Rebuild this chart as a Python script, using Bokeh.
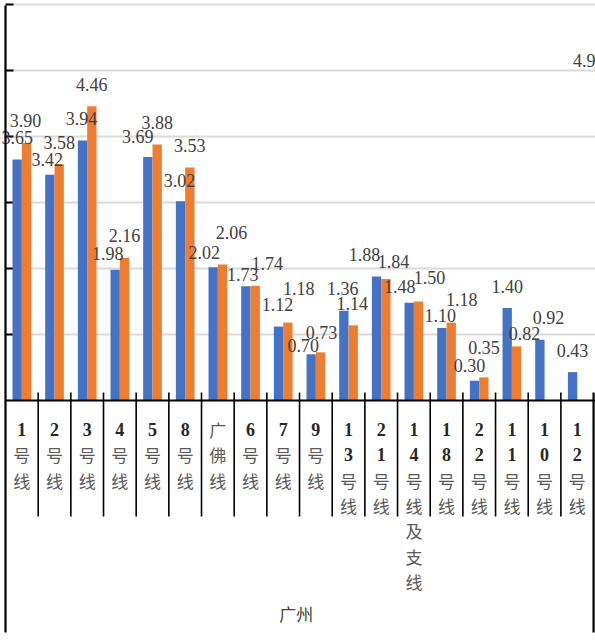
from bokeh.plotting import figure
from bokeh.models import Range1d
from bokeh.core.properties import value
from bokeh.embed import file_html
from bokeh.resources import INLINE

# ---- data -------------------------------------------------------------
lines = ["1号线", "2号线", "3号线", "4号线", "5号线", "8号线", "广佛线", "6号线",
         "7号线", "9号线", "13号线", "21号线", "14号线及支线", "18号线", "22号线",
         "11号线", "10号线", "12号线"]
series_blue = [3.65, 3.42, 3.94, 1.98, 3.69, 3.02, 2.02, 1.73, 1.12, 0.70,
               1.36, 1.88, 1.48, 1.10, 0.30, 1.40, 0.92, 0.43]
series_orange = [3.90, 3.58, 4.46, 2.16, 3.88, 3.53, 2.06, 1.74, 1.18, 0.73,
                 1.14, 1.84, 1.50, 1.18, 0.35, 0.82, None, None]
group_name = "广州"
next_group_blue = 4.9           # first bar of the following group (past the right edge)
y_ticks = [1, 2, 3, 4, 5, 6]

# ---- label nudges (pixels: sideways shift, lift above the bar top) -----
blue_nudge = [(0, 22), (-2.5, 15), (-1, 22), (-7.5, 16), (-10, 20), (-1, 21),
              (-9, 15), (-3, 12), (-1, 22), (-8, 9), (-1, 22), (-12, 22),
              (-9.5, 16), (-1.5, 12), (-5, 15), (0, 22), (8.5, 22), (0, 22)]
orange_nudge = [(-1, 22.5), (0, 22), (0, 22), (0, 22), (0, 22), (0, 22),
                (9, 32), (12, 22), (11, 34), (1, 20), (-1, 22), (7.5, 18),
                (11, 24), (10.5, 23), (0, 30), (8, 13), (0, 0), (0, 0)]

# ---- geometry ---------------------------------------------------------
W, H = 595, 643
CAT_PX = 32.67      # pixels per category
UNIT_PX = 66.0      # pixels per y unit
LEFT_PX = 5         # left edge of the first category
AXIS_PX = 400       # pixel row of y = 0
BAR_W = 0.286
n = len(lines)

x0 = -LEFT_PX / CAT_PX
x1 = (W - LEFT_PX) / CAT_PX
y1 = AXIS_PX / UNIT_PX
y0 = -(H - AXIS_PX) / UNIT_PX

def px_down(px):
    """y value that lies px pixels below the category axis"""
    return -px / UNIT_PX

BLUE = "#4472C4"
ORANGE = "#ED7D31"
GRID = "#D9D9D9"
INK = "#000000"
LABEL = "#404040"
SERIF = value("Liberation Serif")
CJK = value("Noto Sans CJK SC")

p = figure(width=W, height=H, x_range=Range1d(x0, x1), y_range=Range1d(y0, y1),
           output_backend="svg", toolbar_location=None, min_border=0,
           x_axis_location=None, y_axis_location=None)
p.grid.visible = False
p.outline_line_color = None
p.background_fill_color = "white"
p.border_fill_color = "white"

# gridlines and inward tick marks on the value axis
p.segment(x0=[0] * len(y_ticks), y0=y_ticks, x1=[x1] * len(y_ticks), y1=y_ticks,
          line_color=GRID, line_width=2)
p.segment(x0=[0] * len(y_ticks), y0=y_ticks, x1=[8 / CAT_PX] * len(y_ticks),
          y1=y_ticks, line_color=INK, line_width=2)

# bars
idx = list(range(n))
xb = [i + 0.5 - BAR_W / 2 for i in idx]
xo = [i + 0.5 + BAR_W / 2 for i in idx]
p.vbar(x=xb, top=series_blue, width=BAR_W, bottom=0,
       fill_color=BLUE, line_color=None)
o_idx = [i for i in idx if series_orange[i] is not None]
p.vbar(x=[xo[i] for i in o_idx], top=[series_orange[i] for i in o_idx],
       width=BAR_W, bottom=0, fill_color=ORANGE, line_color=None)
p.vbar(x=[n + 0.5 - BAR_W / 2], top=[next_group_blue], width=BAR_W, bottom=0,
       fill_color=BLUE, line_color=None)

# value labels
lab_x, lab_y, lab_t = [], [], []
for i in idx:
    dx, lift = blue_nudge[i]
    lab_x.append(xb[i] + dx / CAT_PX)
    lab_y.append(series_blue[i] + lift / UNIT_PX)
    lab_t.append(f"{series_blue[i]:.2f}")
for i in o_idx:
    dx, lift = orange_nudge[i]
    lab_x.append(xo[i] + dx / CAT_PX)
    lab_y.append(series_orange[i] + lift / UNIT_PX)
    lab_t.append(f"{series_orange[i]:.2f}")
# the label of the next group's first bar reaches back into view
lab_x.append(n + 0.5 - BAR_W / 2 - 21 / CAT_PX)
lab_y.append(next_group_blue + 17 / UNIT_PX)
lab_t.append(f"{next_group_blue:.1f}")
p.text(x=lab_x, y=lab_y, text=lab_t, text_font=SERIF, text_font_size="18px",
       text_color=LABEL, text_align="center", text_baseline="middle")

# category axis line, separators and group boundaries
p.segment(x0=[0], y0=[0], x1=[x1], y1=[0], line_color=INK, line_width=2)
sep = list(range(1, n))
p.segment(x0=sep, y0=[8 / UNIT_PX] * len(sep), x1=sep,
          y1=[px_down(116)] * len(sep), line_color=INK, line_width=1.6)
p.segment(x0=[0, n], y0=[y1 - 5 / UNIT_PX, 8 / UNIT_PX], x1=[0, n],
          y1=[px_down(232), px_down(232)], line_color=INK, line_width=2.2)

# stacked category names, one character per row
dig_x, dig_y, dig_t = [], [], []
han_x, han_y, han_t = [], [], []
for i, name in enumerate(lines):
    for r, ch in enumerate(name):
        yy = px_down(29 + 25.3 * r)
        if ch.isdigit():
            dig_x.append(i + 0.5); dig_y.append(yy); dig_t.append(ch)
        else:
            han_x.append(i + 0.5); han_y.append(yy); han_t.append(ch)
p.text(x=dig_x, y=dig_y, text=dig_t, text_font=SERIF, text_font_style="bold",
       text_font_size="18px", text_color="#262626",
       text_align="center", text_baseline="middle")
p.text(x=han_x, y=han_y, text=han_t, text_font=CJK, text_font_size="17px",
       text_color="#595959", text_align="center", text_baseline="middle")

# group name
p.text(x=[n / 2 - 0.1], y=[px_down(213)], text=[group_name], text_font=CJK,
       text_font_size="17px", text_color="#404040",
       text_align="center", text_baseline="middle")

open("out.html", "w").write(file_html(p, INLINE))
